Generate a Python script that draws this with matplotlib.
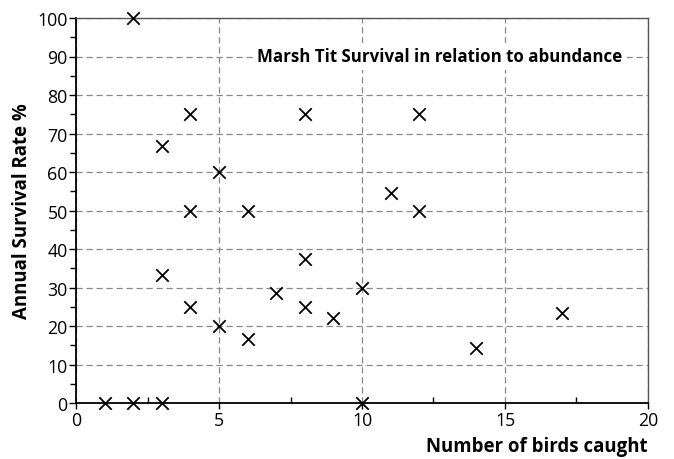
import matplotlib
matplotlib.use("Agg")
import matplotlib.pyplot as plt
from matplotlib.ticker import MultipleLocator

plt.rcParams['font.family'] = ['Open Sans', 'DejaVu Sans']

birds = [1, 2, 3, 2, 3, 3, 4, 4, 4, 5, 5, 6, 6, 7, 8, 8, 8, 9, 10, 10, 11, 12, 12, 14, 17]
survival = [0, 0, 0, 100, 66.7, 33.3, 75, 50, 25, 60, 20, 50, 16.7, 28.6, 75, 37.5, 25, 22.2, 30, 0, 54.5, 75, 50, 14.3, 23.5]

title = "Marsh Tit Survival in relation to abundance"
xlabel = "Number of birds caught"
ylabel = "Annual Survival Rate %"

fig = plt.figure(figsize=(6.74, 4.60), dpi=100)
ax = fig.add_axes([0.1128, 0.1217, 0.8486, 0.837])

ax.scatter(birds, survival, marker='x', s=80, c='black', linewidths=1.3, zorder=5, clip_on=False)

ax.set_xlim(0, 20)
ax.set_ylim(0, 100)
ax.xaxis.set_major_locator(MultipleLocator(5))
ax.xaxis.set_minor_locator(MultipleLocator(2.5))
ax.yaxis.set_major_locator(MultipleLocator(10))
ax.yaxis.set_minor_locator(MultipleLocator(5))

ax.grid(True, which='major', color='#888888', linestyle=(0, (5, 3)), linewidth=0.9)
ax.set_axisbelow(True)

ax.tick_params(axis='x', which='major', direction='out', length=4, width=1, labelsize=12.8, pad=2)
ax.tick_params(axis='x', which='minor', direction='in', length=4, width=1)
ax.tick_params(axis='y', which='major', direction='out', length=5, width=1, labelsize=12.8, pad=1)
ax.tick_params(axis='y', which='minor', direction='out', length=4, width=1)

for s in ['left', 'bottom']:
    ax.spines[s].set_color('black')
    ax.spines[s].set_linewidth(1.3)
ax.spines['top'].set_color('#555555')
ax.spines['top'].set_linewidth(1.0)
ax.spines['right'].set_color('#555555')
ax.spines['right'].set_linewidth(1.0)
ax.spines['right'].set_linestyle((0, (5, 1)))

ax.text(12.73, 90, title, ha='center', va='center', fontsize=12.2, fontweight='bold',
        bbox=dict(facecolor='white', edgecolor='none', pad=3), zorder=4)

ax.set_xlabel(xlabel, fontsize=13.4, fontweight='bold', loc='right', labelpad=5)
ax.set_ylabel(ylabel, fontsize=13.4, fontweight='bold', labelpad=4)

fig.savefig("out.png", dpi=100)
